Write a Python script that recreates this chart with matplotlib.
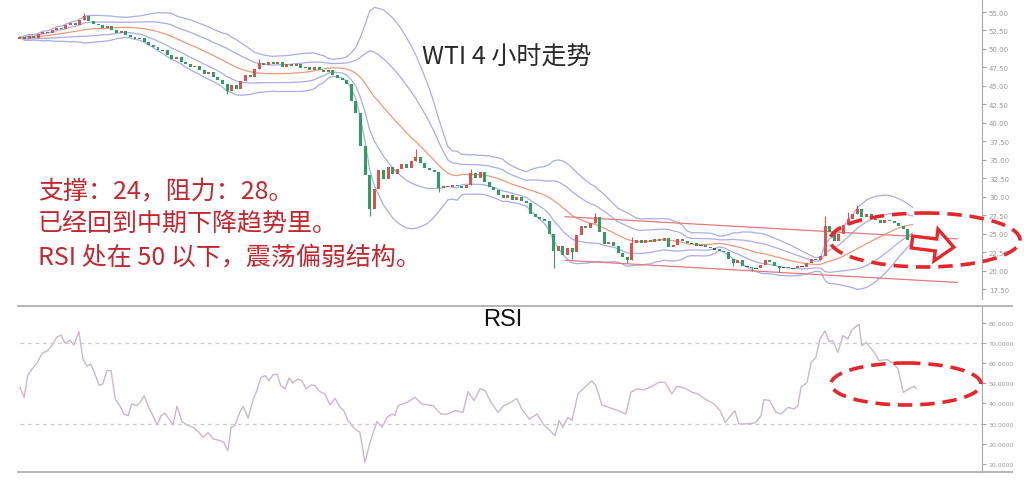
import numpy as np
import pandas as pd
import matplotlib.pyplot as plt
from matplotlib.patches import Ellipse, FancyArrow

## 4h closes
closes = [51.6, 51.3, 51.8, 51.5, 52.0, 52.3, 52.1, 52.6, 52.9, 52.7,
          53.2, 53.5, 53.3, 53.9, 54.5, 53.8, 53.4, 53.2, 52.9, 53.1,
          52.6, 52.2, 52.4, 51.9, 51.6, 51.3, 51.5, 50.9, 50.5, 50.2,
          49.8, 49.9, 49.2, 48.7, 48.9, 48.3, 47.9, 47.5, 47.7, 47.1,
          46.6, 46.9, 46.2, 45.8, 45.3, 44.3, 45.1, 44.6, 45.6, 46.5,
          46.2, 47.3, 48.1, 47.8, 48.3, 47.9, 48.2, 47.6, 48.0, 47.7,
          47.9, 47.4, 47.6, 47.2, 47.5, 47.1, 46.9, 47.2, 46.5, 46.1,
          45.8, 45.2, 43.0, 41.3, 36.8, 32.9, 28.4, 31.0, 33.6, 32.4,
          34.0, 33.1, 33.8, 34.4, 33.9, 34.8, 35.4, 34.5, 33.9, 33.6,
          33.3, 31.2, 31.5, 31.3, 31.6, 31.4, 31.2, 31.6, 33.2, 32.6,
          33.3, 32.0, 31.3, 30.9, 30.3, 29.8, 30.2, 29.6, 29.9, 29.4,
          29.1, 27.6, 27.2, 27.0, 26.7, 25.0, 22.6, 23.3, 22.1, 23.0,
          22.5, 24.8, 26.0, 25.8, 26.5, 27.2, 25.2, 23.6, 23.9, 23.4,
          22.4, 21.8, 21.5, 23.8, 24.1, 23.8, 24.2, 23.9, 24.3, 24.0,
          24.4, 23.2, 23.5, 24.3, 24.0, 23.7, 23.8, 23.4, 23.5, 23.2,
          23.0, 22.9, 22.7, 22.5, 21.6, 21.0, 21.4, 20.6, 20.5, 20.3,
          20.4, 20.7, 21.5, 21.2, 20.6, 20.4, 20.5, 20.3, 20.4, 20.6,
          20.5, 21.0, 21.6, 21.4, 22.0, 26.0, 25.2, 24.0, 25.0, 26.2,
          27.0, 27.6, 28.4, 27.2, 27.6, 27.0, 26.8, 26.5, 26.9, 26.7,
          26.4, 26.0, 25.6, 24.2, 24.4]
first_open = 51.3

# notable shadows only (bar index -> price)
wick_high = {14: 54.9, 52: 48.6, 86: 36.4, 98: 33.8, 125: 27.8, 133: 24.5,
             175: 27.4, 180: 27.9, 182: 28.9}
wick_low = {45: 43.9, 76: 27.4, 91: 30.6, 116: 20.3, 120: 21.6, 132: 21.0,
            155: 20.6, 159: 19.9, 165: 19.8}

## RSI, sampled along the bar axis
rsi_t = [0.0, 0.9, 1.7, 2.6, 3.7, 4.8, 5.9, 7.0, 8.0, 8.9, 9.8, 10.9, 11.7, 12.8,
         13.7, 14.6, 15.4, 16.3, 17.2, 18.0, 18.9, 19.8, 20.7, 21.7, 22.6, 23.5,
         24.3, 25.4, 26.1, 27.0, 27.8, 28.9, 29.8, 30.7, 31.5, 32.4, 33.3, 34.1,
         35.2, 36.3, 37.6, 38.7, 39.8, 40.9, 42.0, 43.5, 44.3, 45.2, 45.9, 46.7,
         47.8, 48.5, 49.6, 50.7, 51.5, 52.4, 53.3, 54.1, 55.0, 55.9, 56.7, 57.6,
         58.5, 59.3, 60.4, 61.3, 62.2, 63.3, 64.1, 65.2, 66.3, 67.4, 68.5, 69.6,
         70.4, 71.3, 72.8, 73.9, 75.0, 76.1, 77.6, 78.7, 79.8, 80.9, 81.5, 82.2,
         84.1, 85.9, 87.4, 89.8, 91.5, 93.0, 94.6, 96.3, 97.4, 98.7, 100.0,
         101.1, 102.4, 103.9, 105.2, 106.7, 108.0, 109.1, 110.7, 112.4, 113.9,
         115.2, 116.3, 117.2, 118.0, 119.1, 120.0, 121.3, 122.8, 124.3, 125.2,
         126.5, 128.0, 130.0, 131.7, 132.8, 134.1, 135.7, 137.4, 138.9, 140.2,
         141.7, 142.8, 144.6, 146.1, 147.4, 148.9, 150.9, 152.2, 153.3, 154.6,
         155.4, 156.3, 157.8, 159.8, 161.1, 161.7, 163.0, 164.3, 165.4, 167.0,
         168.3, 169.1, 169.8, 171.1, 172.0, 173.0, 173.9, 175.0, 175.9, 176.7,
         177.8, 178.9, 180.0, 180.7, 181.5, 182.4, 183.0, 183.9, 185.7, 186.7,
         188.5, 190.0, 190.9, 192.0, 193.3, 194.3, 194.8]
rsi_v = [48, 43, 54, 57, 60, 65, 66, 69, 73, 74, 70, 71.5, 69, 75.7,
         62, 58.5, 59.6, 54.6, 49, 49.7, 56.3, 56.3, 42.2, 38.9, 34.7, 33.9,
         39.7, 38.9, 40.5, 43.8, 38.9, 33.9, 29.3, 33.9, 35.2, 32.2, 29.3, 38.6,
         31, 29.3, 28.1, 26, 23.2, 25.4, 22.3, 21.5, 20.6, 16.5, 28.1, 28.9,
         35.6, 38.6, 32.6, 42.2, 46.4, 53, 53.8, 51.3, 54.2, 54.6, 48.8, 47.2,
         52.6, 50.2, 52.1, 51.3, 47.2, 49.2, 48.8, 45.8, 44.7, 39.2, 42.5, 38,
         36.4, 31.5, 27.3, 25.6, 10.7, 20.6, 31, 28.1, 33.1, 34.7, 33.9, 38.9,
         40.5, 43, 39.7, 38.9, 34.7, 34.7, 36.4, 35.6, 45.8, 41.4, 47.2,
         46.4, 40.5, 35.6, 38.9, 40.5, 42.5, 37.2, 32.2, 34.7, 29.3,
         26.5, 23.9, 31.5, 28.1, 33.1, 31.5, 44.7, 48, 51.3, 48.8,
         39.2, 38, 36.4, 34.7, 45.5, 47.2, 46.8, 48.5, 50.5, 50.5,
         44.7, 48.5, 47.5, 45.5, 44.7, 42.2, 39.7, 36.4, 30.6, 34.3,
         36.4, 29.8, 29.8, 30.3, 33.9, 41.9, 41.4, 35.6, 34.7, 38,
         37.2, 38.9, 48, 50.5, 60.4, 62.8, 72, 76.1, 70.7, 71.2,
         65.4, 73.7, 72, 76.1, 77.8, 79.4, 68.7, 70.4, 65.4, 61.3,
         61.8, 59.6, 57.1, 45.5, 47.2, 48.5, 47.5]

## hand drawn trend channel (bar index, price)
trend_t = [118.5, 203.7]
trend_upper = [27.3, 24.3]
trend_lower = [21.4, 18.4]

price_ticks = [17.5, 20, 22.5, 25, 27.5, 30, 32.5, 35, 37.5, 40, 42.5, 45,
               47.5, 50, 52.5, 55]
rsi_ticks = [10, 20, 30, 40, 50, 60, 70, 80]

title = 'WTI 4 小时走势'
notes = ['支撑：24，阻力：28。', '已经回到中期下降趋势里。', 'RSI 处在 50 以下，震荡偏弱结构。']

## ---------------------------------------------------------------
UP = '#d9534f'
DOWN = '#2f9e62'
BAND = '#a9ace6'
MID = '#ec9a78'
RED = '#e5262b'
TXT_RED = '#c4262e'

c = np.array(closes)
o = np.r_[first_open, c[:-1]]
t = np.arange(len(c))

s = pd.Series(c)
ma = s.rolling(20, min_periods=1).mean()
sd = s.rolling(20, min_periods=1).std(ddof=0)

W, H = 1024, 485
fig = plt.figure(figsize=(10.24, 4.85), dpi=100)
x_right = 209.1   # bar position of the price axis line

ax = fig.add_axes([18 / W, 1 - 300 / H, (982 - 18) / W, 300 / H])
ax.set_xlim(-0.43, x_right)
ax.set_ylim(16.16, 56.76)

for k in (2, 1, -1, -2):
    ax.plot(t, ma + k * sd, color=BAND, lw=0.9, zorder=1)
ax.plot(t, ma, color=MID, lw=0.9, zorder=1)
ax.plot(trend_t, trend_upper, color='#e27a7a', lw=0.9, zorder=1)
ax.plot(trend_t, trend_lower, color='#e27a7a', lw=0.9, zorder=1)

for i in t:
    col = UP if c[i] >= o[i] else DOWN
    lo, hi = min(o[i], c[i]), max(o[i], c[i])
    h = hi - lo
    if h < 0.15:
        col2 = '#555555'
        ax.bar(i, 0.15, bottom=lo - 0.05, width=0.75, color=col2, zorder=3)
    else:
        ax.bar(i, h, bottom=lo, width=0.65, color=col, zorder=3)
    top = wick_high.get(i, hi)
    bot = wick_low.get(i, lo)
    if top > hi or bot < lo:
        ax.vlines(i, bot, top, color=col, lw=0.8, zorder=2)

for sp in ('top', 'left', 'bottom'):
    ax.spines[sp].set_visible(False)
ax.spines['right'].set_color('#a8a8a8')
ax.set_xticks([])
ax.yaxis.tick_right()
ax.set_yticks(price_ticks)
ax.set_yticklabels(['%.2f' % v for v in price_ticks])
ax.tick_params(axis='y', colors='#a8a8a8', labelcolor='#9a9a9a', labelsize=5,
               length=3, width=0.8, pad=2)

## RSI panel
rax = fig.add_axes([18 / W, 1 - 473 / H, (1012 - 18) / W, (473 - 307) / H])
rax.set_xlim(-0.43, (1012 - 20) / 4.6)
rax.set_ylim(5.87, 88.46)
rax.plot(rsi_t, rsi_v, color='#cdb6cf', lw=1.0)
rax.hlines([30, 70], 0, x_right, colors='#c9c9c9', linestyles=(0, (3, 3)), lw=0.9)
rax.spines['left'].set_visible(False)
rax.spines['top'].set_color('#b5b5b5')
rax.spines['bottom'].set_color('#b5b5b5')
rax.spines['top'].set_linewidth(1.4)
rax.spines['bottom'].set_linewidth(1.4)
rax.spines['right'].set_position(('data', x_right))
rax.spines['right'].set_color('#a8a8a8')
rax.set_xticks([])
rax.yaxis.tick_right()
rax.set_yticks(rsi_ticks)
rax.set_yticklabels(['%.4f' % v for v in rsi_ticks])
rax.tick_params(axis='y', colors='#a8a8a8', labelcolor='#9a9a9a', labelsize=4.5,
                length=3, width=0.8, pad=2)
rax.text(105, 82, 'RSI', family='Liberation Sans', fontsize=17, ha='center',
         va='center', color='#111111')

## overlay in pixel coordinates for the annotations
ov = fig.add_axes([0, 0, 1, 1])
ov.set_xlim(0, W)
ov.set_ylim(H, 0)
ov.axis('off')
ov.patch.set_alpha(0)

cjk = ['Noto Sans CJK SC', 'DejaVu Sans']
ov.text(507, 58, title, family=cjk, fontsize=18, ha='center', va='center',
        color='#2a2a2a')
for y, line in zip((191, 224, 257), notes):
    ov.text(38, y, line, family=cjk, fontsize=18, ha='left', va='center',
            color=TXT_RED)

ov.add_patch(Ellipse((925, 241), 190, 54, fill=False, ec=RED, lw=2.6,
                     ls=(0, (4, 2.2))))
ov.add_patch(Ellipse((906, 385), 150, 42, fill=False, ec=RED, lw=2.6,
                     ls=(0, (4, 2.2))))
ov.add_patch(FancyArrow(912, 243, 24, 3, width=12, head_width=32,
                        head_length=18, length_includes_head=False,
                        fc='white', ec=RED, lw=2.4))

fig.savefig('out.png', dpi=100)
